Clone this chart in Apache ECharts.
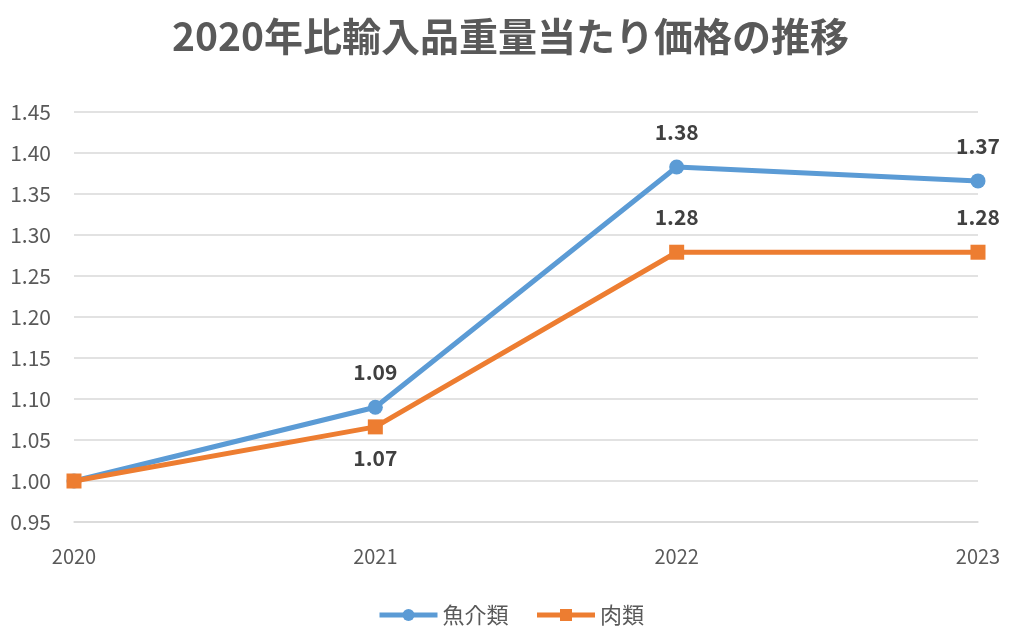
<!DOCTYPE html>
<html><head><meta charset="utf-8">
<script src="https://cdn.jsdelivr.net/npm/echarts@6/dist/echarts.min.js"></script>
<style>html,body{margin:0;padding:0;background:#fff}#c{width:1021px;height:643px}</style>
</head><body><div id="c"></div>
<script>
const categories = ['2020','2021','2022','2023'];
const seafood = [1.00, 1.09, 1.383, 1.366];
const meat = [1.00, 1.066, 1.279, 1.279];
const seriesNames = ['魚介類','肉類'];
const titleText = '2020年比輸入品重量当たり価格の推移';

const font = '"Noto Sans CJK JP","Noto Sans",sans-serif';
const chart = echarts.init(document.getElementById('c'));
function lbl(pos){
  return {show:true, position:pos, distance:17, fontFamily:font, fontSize:21, fontWeight:'bold', color:'#404040',
    formatter:p=> p.dataIndex===0 ? '' : Number(p.value).toFixed(2)};
}
chart.setOption({
  animation:false,
  title:{text:titleText, left:'center', top:12, textStyle:{fontFamily:font, fontSize:39, fontWeight:'bold', color:'#595959'}},
  grid:{left:74, right:43, top:112, bottom:121, outerBoundsMode:'none', containLabel:false},
  legend:{bottom:12, left:'center', itemWidth:58, itemHeight:15, itemGap:26,
    lineStyle:{width:5},
    textStyle:{fontFamily:font, fontSize:22, color:'#595959'}, data:seriesNames},
  xAxis:{type:'category', data:categories, boundaryGap:false,
    axisLine:{show:true, lineStyle:{color:'#d9d9d9', width:1.5}}, axisTick:{show:false},
    axisLabel:{fontFamily:font, fontSize:20, color:'#595959', margin:24}},
  yAxis:{type:'value', min:0.95, max:1.45, interval:0.05,
    axisLine:{show:false}, axisTick:{show:false},
    splitLine:{lineStyle:{color:'#d9d9d9', width:1.5}},
    axisLabel:{fontFamily:font, fontSize:21, color:'#595959', margin:23, formatter:v=>v.toFixed(2)}},
  series:[
    {name:seriesNames[0], type:'line', data:seafood, symbol:'circle', symbolSize:15,
     lineStyle:{color:'#5b9bd5', width:5}, itemStyle:{color:'#5b9bd5'}, label:lbl('top'), z:3},
    {name:seriesNames[1], type:'line', data:meat.map((v,i)=> i===1 ? {value:v, label:{position:'bottom', distance:13}} : v),
     symbol:'rect', symbolSize:15,
     lineStyle:{color:'#ed7d31', width:5}, itemStyle:{color:'#ed7d31'}, label:lbl('top'), z:4}
  ]
});
</script></body></html>
